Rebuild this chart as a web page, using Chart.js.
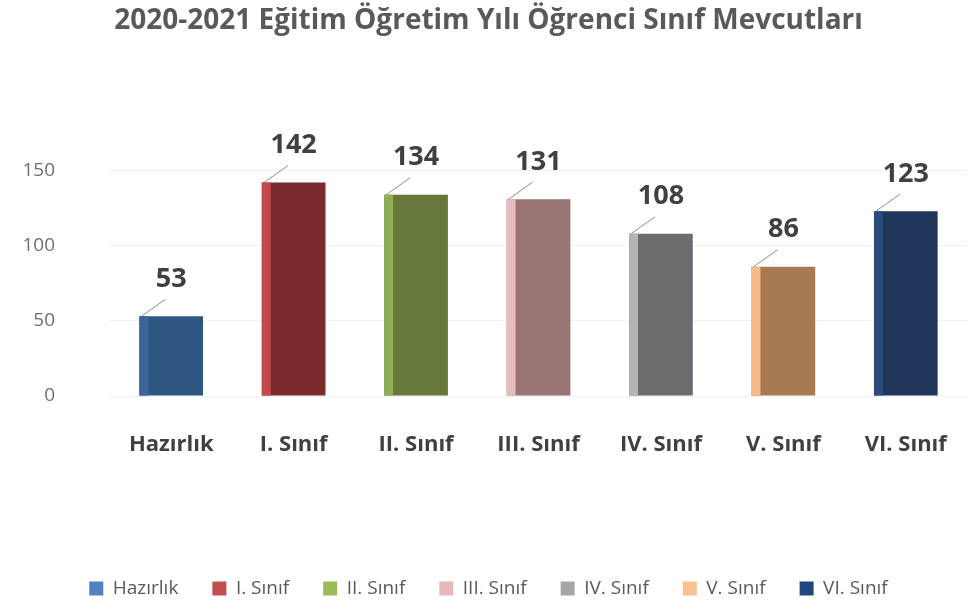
<!DOCTYPE html>
<html>
<head>
<meta charset="utf-8">
<script src="https://cdn.jsdelivr.net/npm/chart.js@4.4.1/dist/chart.umd.min.js"></script>
<style>
 body { margin: 0; background: #fff; }
 #wrap { width: 975px; height: 610px; position: relative; }
</style>
</head>
<body>
<div id="wrap"><canvas id="chart"></canvas></div>
<script>
// data
const categories = ['Hazırlık', 'I. Sınıf', 'II. Sınıf', 'III. Sınıf', 'IV. Sınıf', 'V. Sınıf', 'VI. Sınıf'];
const studentCounts = [53, 142, 134, 131, 108, 86, 123];
const yTicks = [0, 50, 100, 150];

// colours: front face, side face, legend swatch
const frontColors = ['#2e5683', '#7b2b2b', '#67793a', '#9a7373', '#6b6c6f', '#a67b52', '#1f3559'];
const sideColors = ['#3b6596', '#c24a4a', '#8fae55', '#e8bcbc', '#b2b4b6', '#f6bb86', '#2c4b7a'];
const legendColors = ['#4f81bd', '#c0504d', '#9bbb59', '#e6b9b8', '#a6a6a6', '#fac090', '#1f497d'];

const textDark = '#404040';
const textGray = '#6f6f6f';

// draws the lighter side strip, leader line and value label on each bar
const barDecor = {
 id: 'barDecor',
 afterDatasetsDraw(chart) {
   const ctx = chart.ctx;
   chart.data.datasets.forEach((ds, di) => {
     const meta = chart.getDatasetMeta(di);
     meta.data.forEach((bar, i) => {
       if (ds.data[i] == null) return;
       const left = bar.x - bar.width / 2;
       const h = bar.base - bar.y;
       ctx.save();
       ctx.fillStyle = sideColors[di];
       ctx.fillRect(left, bar.y, bar.width * 0.14, h);
       // leader line
       ctx.strokeStyle = '#8c8c8c';
       ctx.lineWidth = 1;
       ctx.beginPath();
       ctx.moveTo(left + 2, bar.y);
       ctx.lineTo(left + 26, bar.y - 17);
       ctx.stroke();
       // value
       ctx.fillStyle = textDark;
       ctx.font = 'bold 27px "Open Sans"';
       ctx.textAlign = 'center';
       ctx.textBaseline = 'middle';
       ctx.fillText(ds.data[i], bar.x, bar.y - 37);
       ctx.restore();
     });
   });
 }
};

// one dataset per class so that each gets a legend entry
const datasets = categories.map((c, i) => ({
 label: c,
 data: categories.map((_, j) => (j === i ? studentCounts[i] : null)),
 backgroundColor: frontColors[i],
 legendColor: legendColors[i],
 barPercentage: 0.52 * 7,
 categoryPercentage: 1 / 7,
 skipNull: true
}));

new Chart(document.getElementById('chart'), {
 type: 'bar',
 data: { labels: categories, datasets },
 options: {
   responsive: true,
   maintainAspectRatio: false,
   animation: false,
   layout: { padding: { left: 4, right: 2, top: 2, bottom: 2 } },
   plugins: {
     title: {
       display: true,
       text: '2020-2021 Eğitim Öğretim Yılı Öğrenci Sınıf Mevcutları',
       color: '#595959',
       font: { family: 'Open Sans', size: 28, weight: 'bold' },
       padding: { top: 2, bottom: 133 }
     },
     legend: {
       position: 'bottom',
       labels: {
         color: '#595959',
         font: { family: 'Open Sans', size: 19 },
         boxWidth: 14,
         boxHeight: 14,
         padding: 34,
         generateLabels(chart) {
           return chart.data.datasets.map((ds, i) => ({
             text: ds.label,
             fillStyle: ds.legendColor,
             strokeStyle: ds.legendColor,
             lineWidth: 0,
             datasetIndex: i,
             fontColor: '#595959'
           }));
         }
       }
     },
     tooltip: { enabled: false }
   },
   scales: {
     x: {
       grid: { display: false },
       border: { display: false },
       ticks: {
         color: textDark,
         font: { family: 'Open Sans', size: 22, weight: 'bold' },
         padding: 28
       },
       afterFit(scale) { scale.height = 149; }
     },
     y: {
       min: 0,
       max: 150,
       afterBuildTicks(scale) { scale.ticks = yTicks.map(v => ({ value: v })); },
       grid: { color: '#f0f0f0', drawTicks: false },
       border: { display: false },
       ticks: {
         color: textGray,
         font: { family: 'Open Sans', size: 19 },
         padding: 55
       },
       afterFit(scale) { scale.width = 106; }
     }
   }
 },
 plugins: [barDecor]
});
</script>
</body>
</html>
